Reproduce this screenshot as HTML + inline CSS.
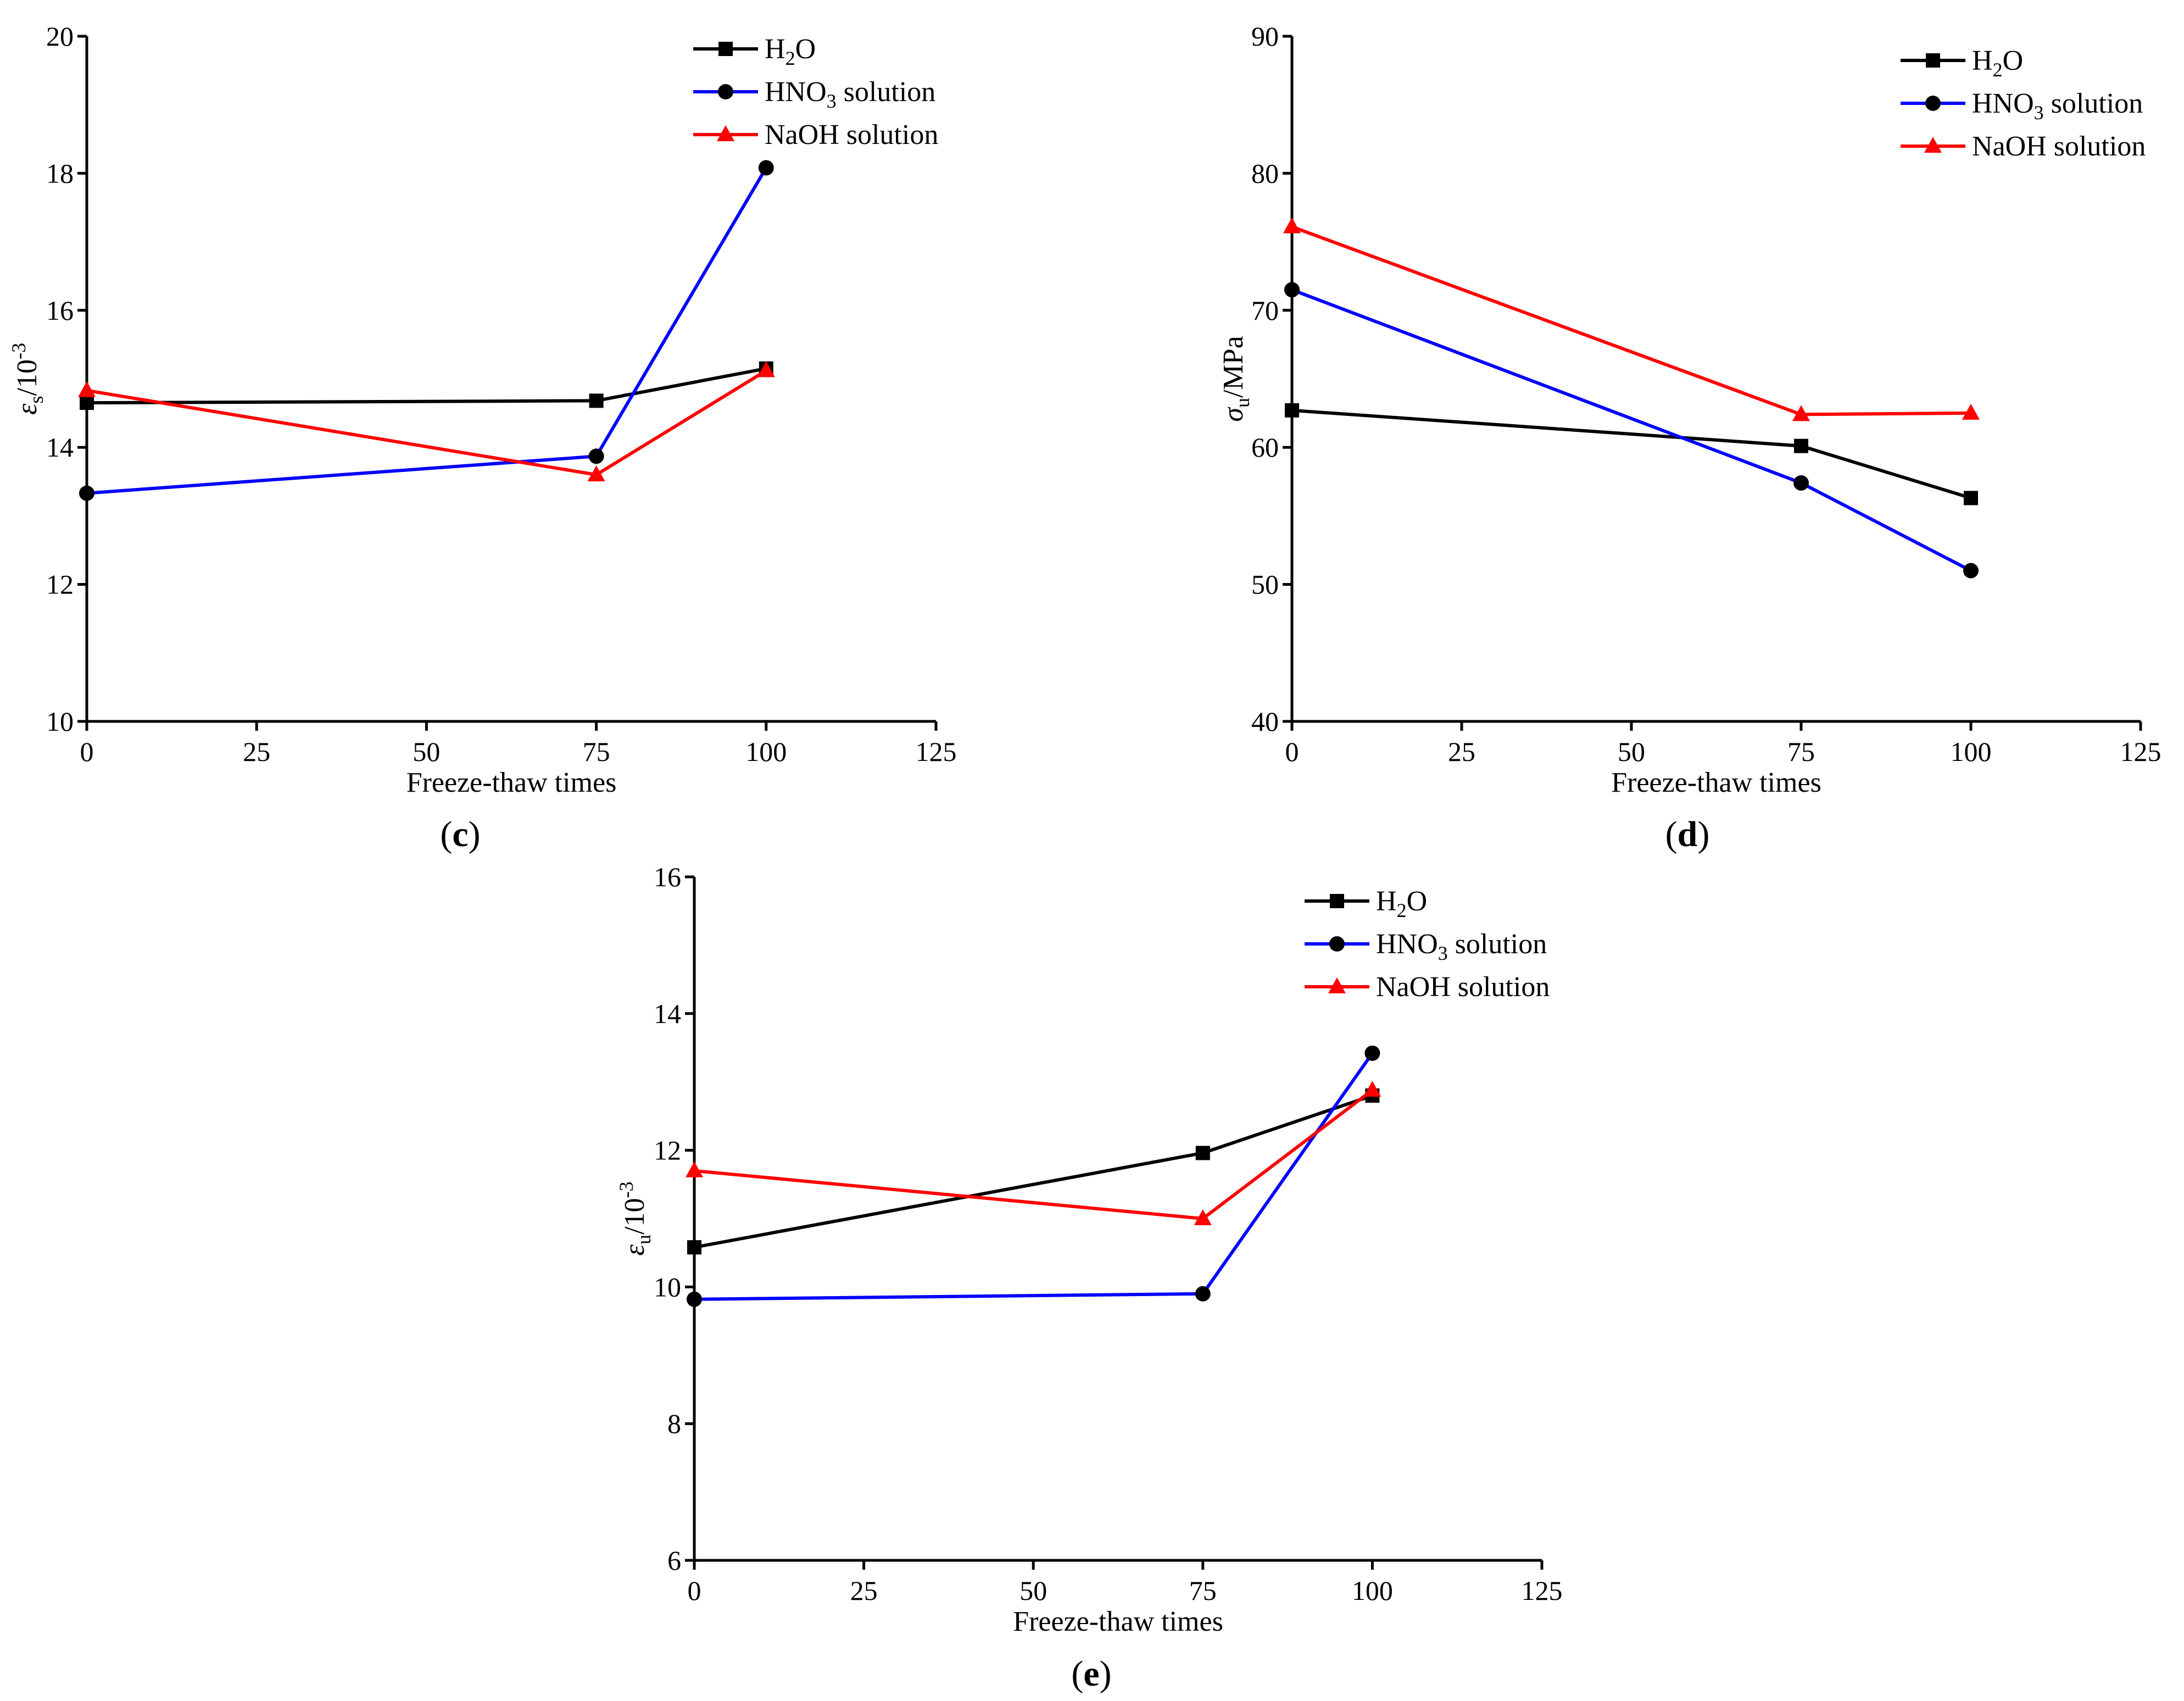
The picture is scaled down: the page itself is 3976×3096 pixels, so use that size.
<!DOCTYPE html>
<html><head><meta charset="utf-8"><style>
html,body{margin:0;padding:0;background:#fff;}
svg{display:block;font-family:"Liberation Serif",serif;}
</style></head><body>
<svg id="fig" width="3976" height="3096" viewBox="0 0 3976 3096" xmlns="http://www.w3.org/2000/svg"></svg>
<script>
const xCats = [0, 75, 100];
const xTicks = [0, 25, 50, 75, 100, 125];
const cTicks = [10, 12, 14, 16, 18, 20];
const cH2O = [14.65, 14.68, 15.15];
const cHNO3 = [13.33, 13.87, 18.08];
const cNaOH = [14.83, 13.6, 15.12];
const dTicks = [40, 50, 60, 70, 80, 90];
const dH2O = [62.7, 60.1, 56.3];
const dHNO3 = [71.5, 57.4, 51.0];
const dNaOH = [76.1, 62.4, 62.5];
const eTicks = [6, 8, 10, 12, 14, 16];
const eH2O = [10.58, 11.96, 12.8];
const eHNO3 = [9.82, 9.9, 13.42];
const eNaOH = [11.7, 11.0, 12.88];

const NS = "http://www.w3.org/2000/svg";
const svg = document.getElementById('fig');
function mk(tag, attrs, parent, text){
  const e = document.createElementNS(NS, tag);
  for (const k in attrs) e.setAttribute(k, attrs[k]);
  if (text !== undefined) e.textContent = text;
  (parent||svg).appendChild(e);
  return e;
}
function marker(g, kind, x, y, color){
  let m;
  if (kind === 'sq') m = mk('rect', {x:x-13, y:y-13, width:26, height:26, fill:'#000'}, g);
  else if (kind === 'ci') m = mk('circle', {cx:x, cy:y, r:14, fill:'#000'}, g);
  else m = mk('polygon', {points:`${x},${y-17} ${x+16},${y+12} ${x-16},${y+12}`, fill:'#f00'}, g);
  return m;
}
function panel(p){
  const g = mk('g', {});
  
  
  const X = v => p.x0 + (v - 0) / 125 * (p.x1 - p.x0);
  const Y = v => p.yb - (v - p.ticks[0]) / (p.ticks[p.ticks.length-1] - p.ticks[0]) * (p.yb - p.yt);
  const ax = mk('g', {}, g);
  
  
  mk('line', {x1:p.x0, y1:p.yt, x2:p.x0, y2:p.yb+2.5, stroke:'#000', 'stroke-width':5}, ax);
  mk('line', {x1:p.x0-2.5, y1:p.yb, x2:p.x1, y2:p.yb, stroke:'#000', 'stroke-width':5}, ax);
  xTicks.forEach(t => {
    mk('line', {x1:X(t), y1:p.yb, x2:X(t), y2:p.yb+17, stroke:'#000', 'stroke-width':5}, ax);
    const tl = mk('text', {x:X(t), y:p.yb+72, 'font-size':50, 'text-anchor':'middle'}, ax, t);
    
    
  });
  p.ticks.forEach(t => {
    mk('line', {x1:p.x0-17, y1:Y(t), x2:p.x0, y2:Y(t), stroke:'#000', 'stroke-width':5}, ax);
    const tl = mk('text', {x:p.x0-24, y:Y(t)+17, 'font-size':50, 'text-anchor':'end'}, ax, t);
    
    
  });
  const xt = mk('text', {x:(p.x0+p.x1)/2, y:p.yb+128, 'font-size':52, 'text-anchor':'middle'}, g, 'Freeze-thaw times');
  
  
  const yt = mk('text', {transform:`translate(${p.ytx},${(p.yt+p.yb)/2}) rotate(-90)`, 'font-size':52, 'text-anchor':'middle'}, g);
  
  
  yt.innerHTML = p.ytitle;
  const series = [
    {name:'H2O', vals:p.h2o, color:'#000', kind:'sq', label:'H<tspan dy="12" font-size="36">2</tspan><tspan dy="-12">O</tspan>'},
    {name:'HNO3', vals:p.hno3, color:'#00f', kind:'ci', label:'HNO<tspan dy="12" font-size="36">3</tspan><tspan dy="-12"> solution</tspan>'},
    {name:'NaOH', vals:p.naoh, color:'#f00', kind:'tr', label:'NaOH solution'}
  ];
  series.forEach((s, i) => {
    const sg = mk('g', {}, g);
    
    
    const pts = s.vals.map((v, j) => `${X(xCats[j])},${Y(v)}`).join(' ');
    mk('polyline', {points:pts, fill:'none', stroke:s.color, 'stroke-width':6}, sg);
    s.vals.forEach((v, j) => {
      const m = marker(sg, s.kind, X(xCats[j]), Y(v), s.color);
      
      
    });
    const lg = mk('g', {}, g);
    
    
    const ly = p.ly + i * 78;
    mk('line', {x1:p.lx, y1:ly, x2:p.lx+118, y2:ly, stroke:s.color, 'stroke-width':6}, lg);
    marker(lg, s.kind, p.lx+59, ly, s.color);
    const t = mk('text', {x:p.lx+130, y:ly+17, 'font-size':52}, lg);
    t.innerHTML = s.label;
  });
  const pl = mk('text', {x:p.plx, y:p.ply, 'font-size':66, 'text-anchor':'middle'}, g);
  
  
  pl.innerHTML = '(<tspan font-weight="bold">' + p.id + '</tspan>)';
}
panel({id:'c', x0:158, x1:1704, yt:66, yb:1313, ticks:cTicks, h2o:cH2O, hno3:cHNO3, naoh:cNaOH,
  ytx:66, ytitle:'<tspan font-style="italic">ε</tspan><tspan dy="12" font-size="36">s</tspan><tspan dy="-12">/10</tspan><tspan dy="-20" font-size="36">-3</tspan>',
  lx:1262, ly:89, plx:838, ply:1540});
panel({id:'d', x0:2352, x1:3897, yt:66, yb:1313, ticks:dTicks, h2o:dH2O, hno3:dHNO3, naoh:dNaOH,
  ytx:2262, ytitle:'<tspan font-style="italic">σ</tspan><tspan dy="12" font-size="36">u</tspan><tspan dy="-12">/MPa</tspan>',
  lx:3460, ly:110, plx:3072, ply:1540});
panel({id:'e', x0:1264, x1:2807, yt:1596, yb:2840, ticks:eTicks, h2o:eH2O, hno3:eHNO3, naoh:eNaOH,
  ytx:1172, ytitle:'<tspan font-style="italic">ε</tspan><tspan dy="12" font-size="36">u</tspan><tspan dy="-12">/10</tspan><tspan dy="-20" font-size="36">-3</tspan>',
  lx:2375, ly:1640, plx:1987, ply:3068});
</script>
</body></html>
